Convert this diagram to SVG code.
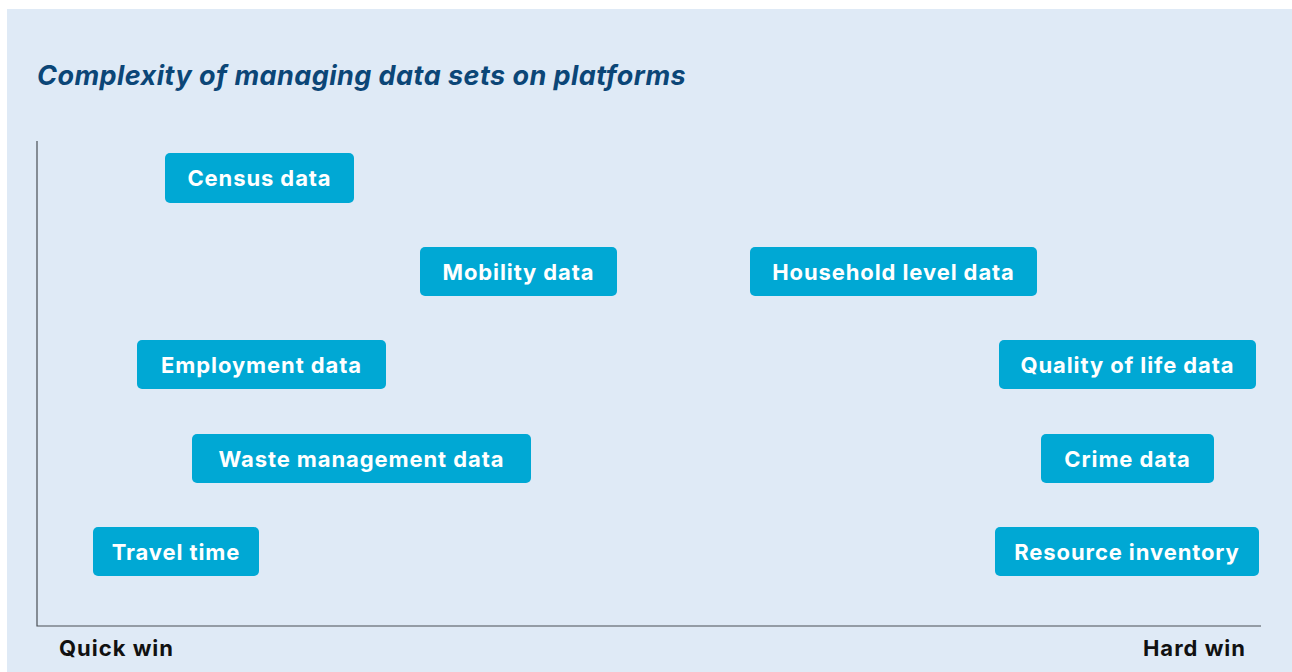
<svg xmlns="http://www.w3.org/2000/svg" width="1292" height="672" viewBox="0 0 1292 672">
<style>
.bg{fill:#dfeaf6}
.box{fill:#00a8d4}
.lbl{font-family:Inter,"Liberation Sans",sans-serif;font-weight:700;font-size:22px;fill:#ffffff;text-anchor:middle;letter-spacing:0.9px}
.ax{stroke:#4a4f55;stroke-width:1.2;fill:none}
.axl{font-family:Inter,"Liberation Sans",sans-serif;font-weight:700;font-size:22px;fill:#111111;letter-spacing:1px}
.title{font-family:Inter,"Liberation Sans",sans-serif;font-weight:700;font-style:italic;font-size:27px;fill:#0b4677;letter-spacing:0.45px}
</style>
<rect width="1292" height="672" fill="#ffffff"/>
<rect class="bg" x="7" y="9" width="1285" height="663"/>
<text class="title" x="37" y="85">Complexity of managing data sets on platforms</text>
<g id="connectors">
<polyline class="ax" points="37,141 37,626 1261,626"/>
</g>
<g id="census"><rect class="box" x="165" y="153" width="189" height="50" rx="5"/><text class="lbl" x="259.5" y="186">Census data</text></g>
<g id="mobility"><rect class="box" x="420" y="247" width="197" height="49" rx="5"/><text class="lbl" x="518.5" y="280">Mobility data</text></g>
<g id="household"><rect class="box" x="750" y="247" width="287" height="49" rx="5"/><text class="lbl" x="893.5" y="280">Household level data</text></g>
<g id="employment"><rect class="box" x="137" y="340" width="249" height="49" rx="5"/><text class="lbl" x="261.5" y="373">Employment data</text></g>
<g id="quality"><rect class="box" x="999" y="340" width="257" height="49" rx="5"/><text class="lbl" x="1127.5" y="373">Quality of life data</text></g>
<g id="waste"><rect class="box" x="192" y="434" width="339" height="49" rx="5"/><text class="lbl" x="361.5" y="467">Waste management data</text></g>
<g id="crime"><rect class="box" x="1041" y="434" width="173" height="49" rx="5"/><text class="lbl" x="1127.5" y="467">Crime data</text></g>
<g id="travel"><rect class="box" x="93" y="527" width="166" height="49" rx="5"/><text class="lbl" x="176" y="560">Travel time</text></g>
<g id="resource"><rect class="box" x="995" y="527" width="264" height="49" rx="5"/><text class="lbl" x="1127" y="560">Resource inventory</text></g>
<text class="axl" x="59" y="656">Quick win</text>
<text class="axl" x="1246" y="656" text-anchor="end">Hard win</text>
</svg>
